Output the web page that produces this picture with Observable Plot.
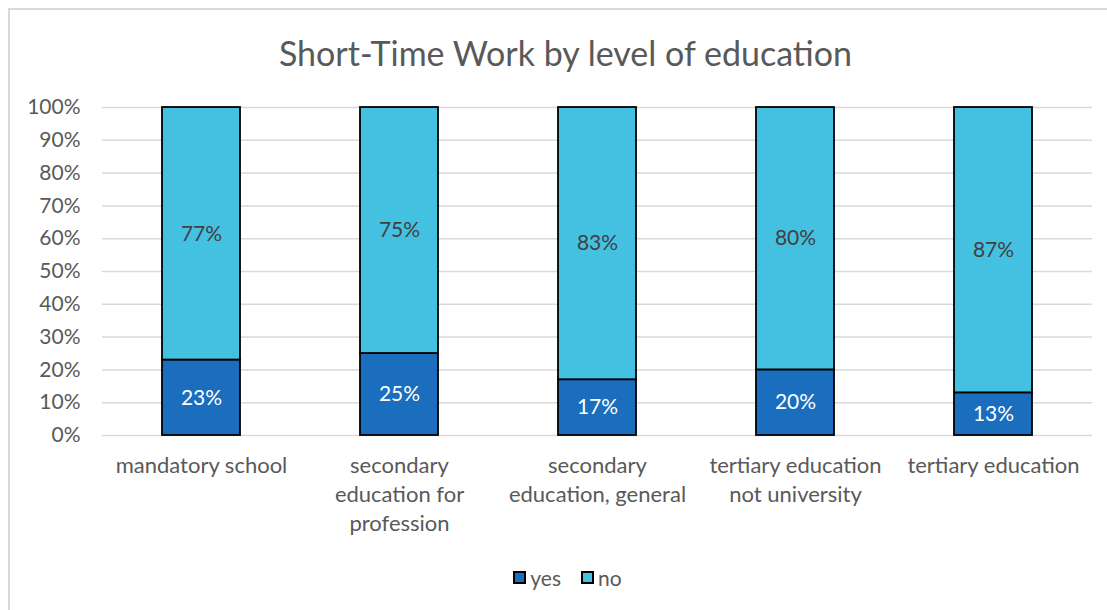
<!DOCTYPE html>
<html>
<head>
<meta charset="utf-8">
<script src="https://cdn.jsdelivr.net/npm/d3@7"></script>
<script src="https://cdn.jsdelivr.net/npm/@observablehq/plot@0.6"></script>
<style>
  html, body { margin: 0; padding: 0; background: #fff; overflow: hidden; }
  body { width: 1107px; height: 610px; position: relative; font-family: Lato, "Open Sans", sans-serif; }
  #frame { position: absolute; left: 8px; top: 8px; width: 1200px; height: 700px; border: 2px solid #d9d9d9; box-sizing: border-box; pointer-events: none; }
  #title { height: 85px; line-height: 106px; text-align: center; font-size: 34px; color: #595959; padding-left: 24px; box-sizing: border-box; }
  #chart svg { display: block; }
  #legend { height: 44px; display: flex; justify-content: center; align-items: center; font-size: 21px; color: #595959; gap: 20px; padding-left: 28px; }
  .item { display: flex; align-items: center; gap: 4px; }
  .sw { width: 13px; height: 13px; border: 2px solid #000; box-sizing: border-box; }
</style>
</head>
<body>
<div id="frame"></div>
<div id="title">Short-Time Work by level of education</div>
<div id="chart"></div>
<div id="legend"></div>
<script>
const categories = ["mandatory school", "secondary education for profession", "secondary education, general", "tertiary education not university", "tertiary education"];
const categoryLabels = ["mandatory school", "secondary\neducation for\nprofession", "secondary\neducation, general", "tertiary education\nnot university", "tertiary education"];
const series = ["yes", "no"];
const yesValues = [23, 25, 17, 20, 13];
const noValues = [77, 75, 83, 80, 87];
const colors = ["#1b6ebd", "#44c0e1"];
const labelColors = ["#ffffff", "#404040"];
const yTicks = [0, 10, 20, 30, 40, 50, 60, 70, 80, 90, 100];

const data = [];
categories.forEach((c, i) => {
  data.push({cat: c, series: "yes", value: yesValues[i]});
  data.push({cat: c, series: "no", value: noValues[i]});
});

const labelOf = new Map(categories.map((c, i) => [c, categoryLabels[i]]));

const plot = Plot.plot({
  width: 1107,
  height: 470,
  marginLeft: 102,
  marginRight: 15,
  marginTop: 22,
  marginBottom: 120,
  style: {fontFamily: "Lato, 'Open Sans', sans-serif", fontSize: "21px", color: "#595959", background: "transparent"},
  x: {domain: categories, paddingInner: 0.606, paddingOuter: 0.303, label: null},
  y: {domain: [0, 100], label: null},
  color: {domain: series, range: colors},
  marks: [
    Plot.gridY(yTicks, {stroke: "#d9d9d9", strokeOpacity: 1, strokeWidth: 1.5}),
    Plot.axisY(yTicks, {tickSize: 0, tickPadding: 22, tickFormat: d => d + "%", label: null, fill: "#595959", fontSize: 21}),
    Plot.axisX({tickSize: 0, tickPadding: 17, tickFormat: d => labelOf.get(d), label: null, fill: "#595959", fontSize: 22, lineHeight: 1.32}),
    Plot.barY(data, {x: "cat", y: "value", fill: "series", stroke: "#000", strokeWidth: 1.8}),
    Plot.text(data, Plot.stackY({x: "cat", y: "value", text: d => d.value + "%", fill: d => labelColors[series.indexOf(d.series)], fontSize: 21}))
  ]
});
document.getElementById("chart").appendChild(plot);

const legend = document.getElementById("legend");
series.forEach((s, i) => {
  const item = document.createElement("div");
  item.className = "item";
  const sw = document.createElement("div");
  sw.className = "sw";
  sw.style.background = colors[i];
  const t = document.createElement("span");
  t.textContent = s;
  item.appendChild(sw);
  item.appendChild(t);
  legend.appendChild(item);
});
</script>
</body>
</html>
